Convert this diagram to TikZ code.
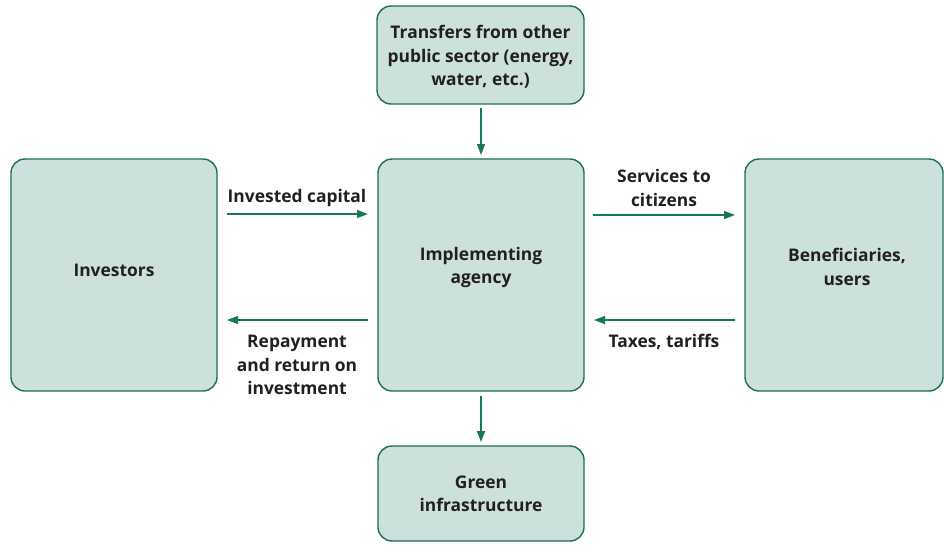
\documentclass[tikz,border=0pt]{standalone}
\usepackage{fontspec}
\setmainfont{Open Sans}
\usetikzlibrary{arrows.meta}
\definecolor{boxfill}{HTML}{CCE1DC}
\definecolor{boxline}{HTML}{1A6E5A}
\definecolor{arrowc}{HTML}{17775E}
\definecolor{txt}{HTML}{231F20}
\tikzset{
  box/.style={draw=boxline, fill=boxfill, line width=1.4pt, rounded corners=14pt, inner sep=0pt},
  flow/.style={draw=arrowc, line width=1.4pt, -{Triangle[length=11pt,width=8pt]}},
  lbl/.style={text=txt, font=\fontsize{17.4}{23.5}\selectfont\bfseries, align=center, inner sep=0pt},
}
\begin{document}
\begin{tikzpicture}[x=1pt,y=-1pt]
\useasboundingbox (0,0) rectangle (944,544);
\draw[box] (377,6) rectangle (584,104);
\node[lbl] (top) at (480.5,57) {Transfers from other\\public sector (energy,\\water, etc.)};
\draw[box] (11,159) rectangle (217,391);
\node[lbl] (inv) at (114,270) {Investors};
\draw[box] (378,159) rectangle (584,391);
\node[lbl] (imp) at (481,267.5) {Implementing\\agency};
\draw[box] (745,159) rectangle (943,391);
\node[lbl] (ben) at (847,267) {Beneficiaries,\\users};
\draw[box] (378,446) rectangle (584,541);
\node[lbl] (grn) at (481,494) {Green\\infrastructure};
\coordinate (a1) at (481,108); \coordinate (a2) at (481,155);
\draw[flow] (a1) -- (a2);
\coordinate (b1) at (481,396); \coordinate (b2) at (481,442);
\draw[flow] (b1) -- (b2);
\coordinate (c1) at (227,214); \coordinate (c2) at (368,214);
\draw[flow] (c1) -- (c2);
\node[lbl] (cl) at (297,197.5) {Invested capital};
\coordinate (d1) at (368,320); \coordinate (d2) at (227,320);
\draw[flow] (d1) -- (d2);
\node[lbl] (dl) at (297,365) {Repayment\\and return on\\investment};
\coordinate (e1) at (593,215); \coordinate (e2) at (735,215);
\draw[flow] (e1) -- (e2);
\node[lbl] (el) at (664,188) {Services to\\citizens};
\coordinate (f1) at (735,320); \coordinate (f2) at (594,320);
\draw[flow] (f1) -- (f2);
\node[lbl] (fl) at (664,342) {Taxes, tariffs};
\end{tikzpicture}
\end{document}
